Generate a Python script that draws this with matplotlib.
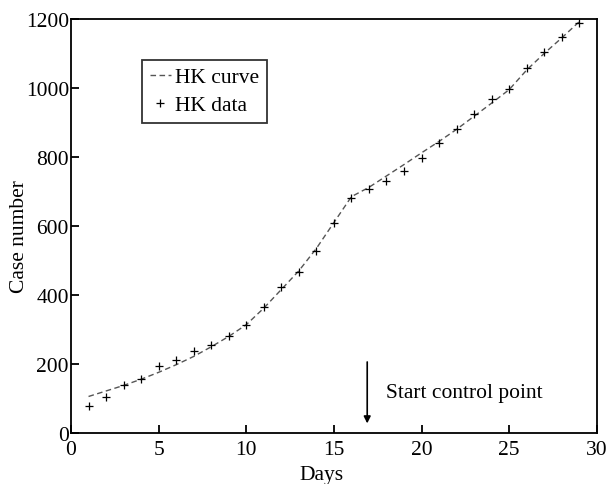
import matplotlib
matplotlib.use("Agg")
import matplotlib.pyplot as plt

plt.rcParams["font.family"] = ["Liberation Serif", "DejaVu Serif"]

days = list(range(1, 30))
hk_data = [77, 105, 140, 158, 195, 211, 237, 256, 282, 314, 364, 422, 468, 528,
           608, 681, 707, 731, 758, 797, 841, 881, 925, 968, 997, 1057, 1105,
           1147, 1188]
hk_curve = [106, 122, 138, 156, 176, 198, 222, 250, 280, 314, 362, 416, 470, 535,
            610, 685, 712, 745, 778, 812, 845, 880, 918, 956, 995, 1052, 1100,
            1145, 1192]

arrow_day = 16.9
arrow_top = 206
arrow_bottom = 28
label_day = 18.0
label_y = 119

FS = 15.5

fig = plt.figure(figsize=(6.09, 4.85), dpi=100)
ax = fig.add_axes([0.1166, 0.105, 0.8634, 0.854])

ax.plot(days, hk_curve, linestyle="--", color="#555555", linewidth=1.0,
        dashes=(4, 2.5), label="HK curve")
ax.plot(days, hk_data, linestyle="none", marker="+", color="black",
        markersize=6, markeredgewidth=0.9, label="HK data")

ax.annotate("", xy=(arrow_day, arrow_bottom), xytext=(arrow_day, arrow_top),
            arrowprops=dict(arrowstyle="-|>", color="black", lw=1.2,
                            mutation_scale=10, shrinkA=0, shrinkB=0))
ax.text(label_day, label_y, "Start control point", fontsize=FS,
        va="center", ha="left")

ax.set_xlim(0, 30)
ax.set_ylim(0, 1200)
ax.set_xticks([0, 5, 10, 15, 20, 25, 30])
ax.set_yticks([0, 200, 400, 600, 800, 1000, 1200])
ax.tick_params(direction="in", length=6, width=1.3, labelsize=FS,
               top=False, right=False)
ax.tick_params(axis="x", pad=5)
ax.tick_params(axis="y", pad=1.5)
for s in ax.spines.values():
    s.set_linewidth(1.3)

ax.set_xlabel("Days", fontsize=FS)
ax.set_ylabel("Case number", fontsize=FS)
ax.xaxis.set_label_coords(0.477, -0.078)
ax.yaxis.set_label_coords(-0.08, 0.476)

leg = ax.legend(loc="upper left", bbox_to_anchor=(0.135, 0.901), fontsize=FS,
                frameon=True, fancybox=False, edgecolor="black",
                handlelength=1.0, handletextpad=0.2, borderpad=0.35,
                labelspacing=0.35, borderaxespad=0)
leg.get_frame().set_linewidth(1.3)

fig.savefig("out.png", dpi=100)
